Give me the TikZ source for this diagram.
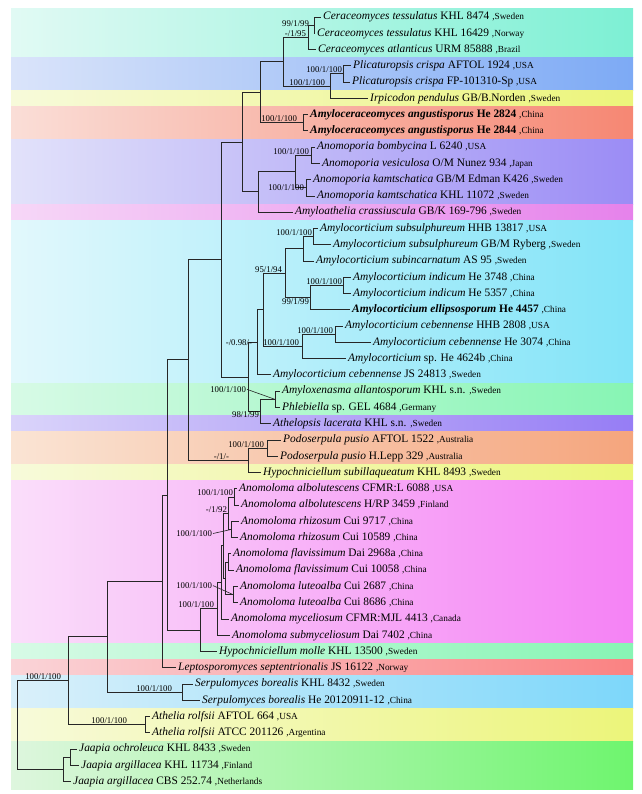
\documentclass[tikz,border=0pt]{standalone}
\usepackage{fontspec}
\setmainfont{Liberation Serif}
\usepackage{tikz}
\usetikzlibrary{positioning}

% band colours (pale left, strong right)
\definecolor{aquaL}{RGB}{225,250,244}  \definecolor{aquaR}{RGB}{125,240,212}
\definecolor{blueL}{RGB}{218,228,250}  \definecolor{blueR}{RGB}{125,170,245}
\definecolor{yelL}{RGB}{247,250,218}   \definecolor{yelR}{RGB}{236,245,122}
\definecolor{salL}{RGB}{250,222,215}   \definecolor{salR}{RGB}{246,135,115}
\definecolor{lavL}{RGB}{226,226,250}   \definecolor{lavR}{RGB}{155,140,245}
\definecolor{pinkL}{RGB}{246,215,247}  \definecolor{pinkR}{RGB}{230,130,235}
\definecolor{cyanL}{RGB}{226,248,252}  \definecolor{cyanR}{RGB}{130,228,248}
\definecolor{grnL}{RGB}{215,250,230}   \definecolor{grnR}{RGB}{135,245,180}
\definecolor{purL}{RGB}{218,212,250}   \definecolor{purR}{RGB}{150,125,245}
\definecolor{orL}{RGB}{250,228,212}    \definecolor{orR}{RGB}{245,165,125}
\definecolor{magL}{RGB}{250,222,250}   \definecolor{magR}{RGB}{245,130,245}
\definecolor{redL}{RGB}{250,212,216}   \definecolor{redR}{RGB}{250,130,130}
\definecolor{skyL}{RGB}{218,240,250}   \definecolor{skyR}{RGB}{125,215,250}
\definecolor{lgrnL}{RGB}{222,246,222}  \definecolor{lgrnR}{RGB}{110,245,110}

\newcommand{\ctry}[1]{{\fontsize{9.3}{10}\selectfont ,#1}}
\newcommand{\taxon}[3]{\textit{#1} #2 \ctry{#3}}
\newcommand{\taxonb}[3]{\textbf{\textit{#1} #2} \ctry{#3}}

\begin{document}
\begin{tikzpicture}[x=1pt, y=-16.27pt]
		\tikzstyle{taxon}=[anchor=west, xshift=-2.5pt, inner xsep=2.5pt, inner ysep=0pt, font=\fontsize{11.4}{12}\selectfont, text height=1.6ex, text depth=.4ex]
		\tikzstyle{sup}=[inner sep=0.8pt, font=\fontsize{8.8}{10}\selectfont]
		\tikzstyle{branch}=[line width=0.9pt, draw=black!85]
		\tikzstyle{leader}=[line width=0.6pt, draw=black!85]
		\useasboundingbox (0,{1-17/16.27}) rectangle (641,{1+777/16.27});

		% coloured bands
		\shade[left color=aquaL, right color=aquaR] (11,0.5) rectangle (633,3.5);
		\shade[left color=blueL, right color=blueR] (11,3.5) rectangle (633,5.5);
		\shade[left color=yelL, right color=yelR] (11,5.5) rectangle (633,6.5);
		\shade[left color=salL, right color=salR] (11,6.5) rectangle (633,8.5);
		\shade[left color=lavL, right color=lavR] (11,8.5) rectangle (633,12.5);
		\shade[left color=pinkL, right color=pinkR] (11,12.5) rectangle (633,13.5);
		\shade[left color=cyanL, right color=cyanR] (11,13.5) rectangle (633,23.5);
		\shade[left color=grnL, right color=grnR] (11,23.5) rectangle (633,25.5);
		\shade[left color=purL, right color=purR] (11,25.5) rectangle (633,26.5);
		\shade[left color=orL, right color=orR] (11,26.5) rectangle (633,28.5);
		\shade[left color=yelL, right color=yelR] (11,28.5) rectangle (633,29.5);
		\shade[left color=magL, right color=magR] (11,29.5) rectangle (633,39.5);
		\shade[left color=grnL, right color=grnR] (11,39.5) rectangle (633,40.5);
		\shade[left color=redL, right color=redR] (11,40.5) rectangle (633,41.5);
		\shade[left color=skyL, right color=skyR] (11,41.5) rectangle (633,43.5);
		\shade[left color=yelL, right color=yelR] (11,43.5) rectangle (633,45.5);
		\shade[left color=lgrnL, right color=lgrnR] (11,45.5) rectangle (633,48.5);

		% taxa
		\node[taxon] (t1) at (323,1) {\taxon{Ceraceomyces tessulatus}{KHL 8474}{Sweden}};
		\node[taxon] (t2) at (317,2) {\taxon{Ceraceomyces tessulatus}{KHL 16429}{Norway}};
		\node[taxon] (t3) at (318,3) {\taxon{Ceraceomyces atlanticus}{URM 85888}{Brazil}};
		\node[taxon] (t4) at (353,4) {\taxon{Plicaturopsis crispa}{AFTOL 1924}{USA}};
		\node[taxon] (t5) at (352,5) {\taxon{Plicaturopsis crispa}{FP-101310-Sp}{USA}};
		\node[taxon] (t6) at (370,6) {\taxon{Irpicodon pendulus}{GB/B.Norden}{Sweden}};
		\node[taxon] (t7) at (310,7) {\taxonb{Amyloceraceomyces angustisporus}{He 2824}{China}};
		\node[taxon] (t8) at (310,8) {\taxonb{Amyloceraceomyces angustisporus}{He 2844}{China}};
		\node[taxon] (t9) at (317,9) {\taxon{Anomoporia bombycina}{L 6240}{USA}};
		\node[taxon] (t10) at (322,10) {\taxon{Anomoporia vesiculosa}{O/M Nunez 934}{Japan}};
		\node[taxon] (t11) at (313,11) {\taxon{Anomoporia kamtschatica}{GB/M Edman K426}{Sweden}};
		\node[taxon] (t12) at (317,12) {\taxon{Anomoporia kamtschatica}{KHL 11072}{Sweden}};
		\node[taxon] (t13) at (295,13) {\taxon{Amyloathelia crassiuscula}{GB/K 169-796}{Sweden}};
		\node[taxon] (t14) at (320,14) {\taxon{Amylocorticium subsulphureum}{HHB 13817}{USA}};
		\node[taxon] (t15) at (333,15) {\taxon{Amylocorticium subsulphureum}{GB/M Ryberg}{Sweden}};
		\node[taxon] (t16) at (316,16) {\taxon{Amylocorticium subincarnatum}{AS 95}{Sweden}};
		\node[taxon] (t17) at (353,17) {\taxon{Amylocorticium indicum}{He 3748}{China}};
		\node[taxon] (t18) at (353,18) {\taxon{Amylocorticium indicum}{He 5357}{China}};
		\node[taxon] (t19) at (352,19) {\taxonb{Amylocorticium ellipsosporum}{He 4457}{China}};
		\node[taxon] (t20) at (345,20) {\taxon{Amylocorticium cebennense}{HHB 2808}{USA}};
		\node[taxon] (t21) at (373,21) {\taxon{Amylocorticium cebennense}{He 3074}{China}};
		\node[taxon] (t22) at (348,22) {\textit{Amylocorticium} sp. He 4624b \ctry{China}};
		\node[taxon] (t23) at (273,23) {\taxon{Amylocorticium cebennense}{JS 24813}{Sweden}};
		\node[taxon] (t24) at (282,24) {\taxon{Amyloxenasma allantosporum}{KHL s.n.}{Sweden}};
		\node[taxon] (t25) at (282,25) {\textit{Phlebiella} sp. GEL 4684 \ctry{Germany}};
		\node[taxon] (t26) at (273,26) {\taxon{Athelopsis lacerata}{KHL s.n.}{Sweden}};
		\node[taxon] (t27) at (283,27) {\taxon{Podoserpula pusio}{AFTOL 1522}{Australia}};
		\node[taxon] (t28) at (280,28) {\taxon{Podoserpula pusio}{H.Lepp 329}{Australia}};
		\node[taxon] (t29) at (263,29) {\taxon{Hypochniciellum subillaqueatum}{KHL 8493}{Sweden}};
		\node[taxon] (t30) at (239,30) {\taxon{Anomoloma albolutescens}{CFMR:L 6088}{USA}};
		\node[taxon] (t31) at (241,31) {\taxon{Anomoloma albolutescens}{H/RP 3459}{Finland}};
		\node[taxon] (t32) at (241,32) {\taxon{Anomoloma rhizosum}{Cui 9717}{China}};
		\node[taxon] (t33) at (240,33) {\taxon{Anomoloma rhizosum}{Cui 10589}{China}};
		\node[taxon] (t34) at (233,34) {\taxon{Anomoloma flavissimum}{Dai 2968a}{China}};
		\node[taxon] (t35) at (236,35) {\taxon{Anomoloma flavissimum}{Cui 10058}{China}};
		\node[taxon] (t36) at (240,36) {\taxon{Anomoloma luteoalba}{Cui 2687}{China}};
		\node[taxon] (t37) at (240,37) {\taxon{Anomoloma luteoalba}{Cui 8686}{China}};
		\node[taxon] (t38) at (231,38) {\taxon{Anomoloma myceliosum}{CFMR:MJL 4413}{Canada}};
		\node[taxon] (t39) at (232,39) {\taxon{Anomoloma submyceliosum}{Dai 7402}{China}};
		\node[taxon] (t40) at (219,40) {\taxon{Hypochniciellum molle}{KHL 13500}{Sweden}};
		\node[taxon] (t41) at (178,41) {\taxon{Leptosporomyces septentrionalis}{JS 16122}{Norway}};
		\node[taxon] (t42) at (195,42) {\taxon{Serpulomyces borealis}{KHL 8432}{Sweden}};
		\node[taxon] (t43) at (202,43) {\taxon{Serpulomyces borealis}{He 20120911-12}{China}};
		\node[taxon] (t44) at (152,44) {\taxon{Athelia rolfsii}{AFTOL 664}{USA}};
		\node[taxon] (t45) at (152,45) {\taxon{Athelia rolfsii}{ATCC 201126}{Argentina}};
		\node[taxon] (t46) at (79,46) {\taxon{Jaapia ochroleuca}{KHL 8433}{Sweden}};
		\node[taxon] (t47) at (81,47) {\taxon{Jaapia argillacea}{KHL 11734}{Finland}};
		\node[taxon] (t48) at (73,48) {\taxon{Jaapia argillacea}{CBS 252.74}{Netherlands}};

		% internal nodes
		\coordinate (cer12) at (314,1.5);
		\coordinate (cer) at (308,2.25);
		\coordinate (pli) at (343,4.5);
		\coordinate (plirp) at (330,5.25);
		\coordinate (cerpli) at (283,3.75);
		\coordinate (amc) at (303,7.5);
		\coordinate (nA) at (260,5.625);
		\coordinate (ano1) at (311,9.5);
		\coordinate (ano2) at (306,11.5);
		\coordinate (ano) at (295,10.5);
		\coordinate (nC) at (258,11.75);
		\coordinate (nB) at (242,8.6875);
		\coordinate (sub) at (313,14.5);
		\coordinate (subi) at (303,15.25);
		\coordinate (ind) at (343,17.5);
		\coordinate (indell) at (310,18.25);
		\coordinate (nX) at (285,16.75);
		\coordinate (ceb) at (335,20.5);
		\coordinate (cebsp) at (302,21.25);
		\coordinate (nW) at (263,19);
		\coordinate (nV) at (257,21);
		\coordinate (amx) at (275,24.5);
		\coordinate (nU) at (260,25.25);
		\coordinate (nT) at (248,23.125);
		\coordinate (nE) at (221,15.90625);
		\coordinate (pod) at (267,27.5);
		\coordinate (nS) at (248,28.25);
		\coordinate (nF) at (188,22.078);
		\coordinate (alb) at (234,30.5);
		\coordinate (rhi) at (231,32.5);
		\coordinate (nM) at (228,31.5);
		\coordinate (fla) at (228,34.5);
		\coordinate (lut) at (233,36.5);
		\coordinate (nL) at (225.5,35.5);
		\coordinate (nN) at (223.5,33.5);
		\coordinate (nK) at (221.5,35.75);
		\coordinate (nJ) at (217,37.375);
		\coordinate (nI) at (200,38.6875);
		\coordinate (nG) at (167,30.383);
		\coordinate (nH) at (162,35.69);
		\coordinate (ser) at (182,42.5);
		\coordinate (nO) at (107,39.096);
		\coordinate (ath) at (145,44.5);
		\coordinate (nP) at (68,41.798);
		\coordinate (jaa) at (70,46.5);
		\coordinate (nR) at (63,47.25);
		\coordinate (root) at (17,44.524);

		% branches
		\draw[branch] (cer12) |- (t1.west) (cer12) |- (t2.west);
		\draw[branch] (cer) |- (cer12) (cer) |- (t3.west);
		\draw[branch] (pli) |- (t4.west) (pli) |- (t5.west);
		\draw[branch] (plirp) |- (pli) (plirp) |- (t6.west);
		\draw[branch] (cerpli) |- (cer) (cerpli) |- (plirp);
		\draw[branch] (amc) |- (t7.west) (amc) |- (t8.west);
		\draw[branch] (nA) |- (cerpli) (nA) |- (amc);
		\draw[branch] (ano1) |- (t9.west) (ano1) |- (t10.west);
		\draw[branch] (ano2) |- (t11.west) (ano2) |- (t12.west);
		\draw[branch] (ano) |- (ano1) (ano) |- (ano2);
		\draw[branch] (nC) |- (ano) (nC) |- (t13.west);
		\draw[branch] (nB) |- (nA) (nB) |- (nC);
		\draw[branch] (sub) |- (t14.west) (sub) |- (t15.west);
		\draw[branch] (subi) |- (sub) (subi) |- (t16.west);
		\draw[branch] (ind) |- (t17.west) (ind) |- (t18.west);
		\draw[branch] (indell) |- (ind) (indell) |- (t19.west);
		\draw[branch] (nX) |- (subi) (nX) |- (indell);
		\draw[branch] (ceb) |- (t20.west) (ceb) |- (t21.west);
		\draw[branch] (cebsp) |- (ceb) (cebsp) |- (t22.west);
		\draw[branch] (nW) |- (nX) (nW) |- (cebsp);
		\draw[branch] (nV) |- (nW) (nV) |- (t23.west);
		\draw[branch] (amx) |- (t24.west) (amx) |- (t25.west);
		\draw[branch] (nU) |- (amx) (nU) |- (t26.west);
		\draw[branch] (nT) |- (nV) (nT) |- (nU);
		\draw[branch] (nE) |- (nB) (nE) |- (nT);
		\draw[branch] (pod) |- (t27.west) (pod) |- (t28.west);
		\draw[branch] (nS) |- (pod) (nS) |- (t29.west);
		\draw[branch] (nF) |- (nE) (nF) |- (nS);
		\draw[branch] (alb) |- (t30.west) (alb) |- (t31.west);
		\draw[branch] (rhi) |- (t32.west) (rhi) |- (t33.west);
		\draw[branch] (nM) |- (alb) (nM) |- (rhi);
		\draw[branch] (fla) |- (t34.west) (fla) |- (t35.west);
		\draw[branch] (lut) |- (t36.west) (lut) |- (t37.west);
		\draw[branch] (nL) |- (fla) (nL) |- (lut);
		\draw[branch] (nN) |- (nM) (nN) |- (nL);
		\draw[branch] (nK) |- (nN) (nK) |- (t38.west);
		\draw[branch] (nJ) |- (nK) (nJ) |- (t39.west);
		\draw[branch] (nI) |- (nJ) (nI) |- (t40.west);
		\draw[branch] (nG) |- (nF) (nG) |- (nI);
		\draw[branch] (nH) |- (nG) (nH) |- (t41.west);
		\draw[branch] (ser) |- (t42.west) (ser) |- (t43.west);
		\draw[branch] (nO) |- (nH) (nO) |- (ser);
		\draw[branch] (ath) |- (t44.west) (ath) |- (t45.west);
		\draw[branch] (nP) |- (nO) (nP) |- (ath);
		\draw[branch] (jaa) |- (t46.west) (jaa) |- (t47.west);
		\draw[branch] (nR) |- (jaa) (nR) |- (t48.west);
		\draw[branch] (root) |- (nP) (root) |- (nR);

		% support values
		\node[sup, left=4pt of cer12, yshift=2pt] (s1) {99/1/99};
		\node[sup, above left=0pt and 1pt of cer] (s2) {-/1/95};
		\node[sup, above left=0pt and 0pt of pli] (s3) {100/1/100};
		\node[sup, above left=0pt and 4pt of plirp] (s4) {100/1/100};
		\node[sup, above left=0pt and 5pt of amc] (s5) {100/1/100};
		\node[sup, above left=0pt and 1pt of ano1] (s6) {100/1/100};
		\node[sup, left=1pt of ano2] (s7) {100/1/100};
		\node[sup, above left=0pt and 0pt of sub] (s8) {100/1/100};
		\node[sup, above left=0pt and 2pt of nX] (s9) {95/1/94};
		\node[sup, above left=0pt and 0pt of ind] (s10) {100/1/100};
		\node[sup, below left=0pt and 0pt of indell] (s11) {99/1/99};
		\node[sup, above left=0pt and 1pt of ceb] (s12) {100/1/100};
		\node[sup, above left=0pt and 2pt of cebsp] (s13) {100/1/100};
		\node[sup, left=4pt of nV] (s14) {-/0.98/-};
		\node[sup, anchor=east] (s15) at ([xshift=-28pt,yshift=10pt]amx) {100/1/100};
		\node[sup, below left=-1pt and 0pt of nU] (s16) {98/1/99};
		\node[sup, above left=0pt and 2pt of pod] (s17) {100/1/100};
		\node[sup, above left=0pt and 18pt of nS] (s18) {-/1/-};
		\node[sup, above left=0pt and 0pt of alb] (s19) {100/1/100};
		\node[sup, left=0pt of nM, yshift=4pt] (s20) {-/1/92};
		\node[sup, anchor=east] (s21) at ([xshift=-18pt,yshift=-4pt]rhi) {100/1/100};
		\node[sup, anchor=east] (s22) at ([xshift=-20pt,yshift=9pt]lut) {100/1/100};
		\node[sup, above left=0pt and 2pt of nJ] (s23) {100/1/100};
		\node[sup, above left=0pt and 9pt of ser] (s24) {100/1/100};
		\node[sup, above left=0pt and 17pt of ath] (s25) {100/1/100};
		\node[sup, above left=0pt and 6pt of nP] (s26) {100/1/100};
		\draw[leader] (s15.east) -- (amx);
		\draw[leader] (s21.east) -- (rhi);
		\draw[leader] (s22.east) -- (lut);
	\end{tikzpicture}
\end{document}
